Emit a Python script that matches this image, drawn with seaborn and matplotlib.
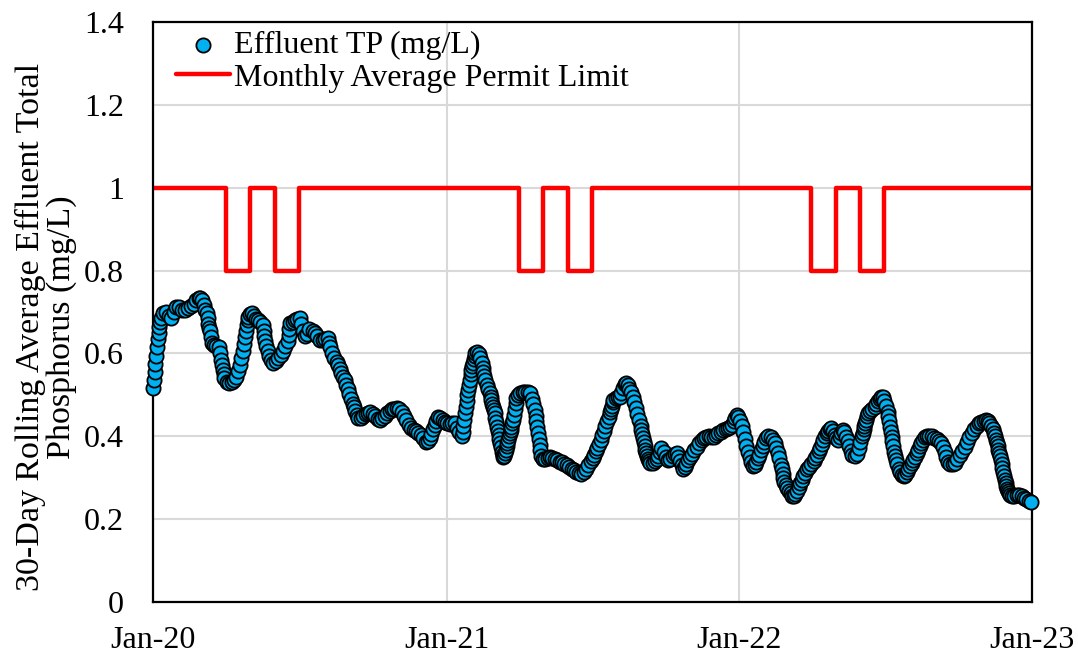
import numpy as np
import pandas as pd
import matplotlib
matplotlib.use("Agg")
import matplotlib.pyplot as plt
import matplotlib.dates as mdates
from matplotlib.ticker import FuncFormatter, MultipleLocator
import seaborn as sns

# ---- data (day offset from 2020-01-01, 30-day rolling TP in mg/L) ----
tp_days = [0,1,2,3,4,5,6,7,8,9,10,12,16,20,23,26,29,33,36,40,44,48,51,54,57,59,61,63,65,67,68,69,70,71,72,73,76,79,82,84,85,86,87,88,89,92,95,98,101,104,106,108,110,112,114,115,116,117,118,119,121,123,126,129,131,134,137,138,139,140,141,143,145,147,150,153,156,159,162,165,168,169,170,171,174,177,180,183,185,187,189,192,195,199,202,205,208,212,215,218,220,221,223,226,229,231,233,235,237,239,241,243,245,247,249,250,252,254,256,259,262,265,268,271,274,277,280,283,286,289,292,295,298,301,304,307,310,313,316,319,322,325,328,331,334,337,340,343,345,347,349,351,353,355,358,361,364,367,370,373,376,379,382,385,386,387,388,389,390,391,392,393,394,395,396,397,398,399,400,401,402,404,406,408,410,411,412,413,414,416,418,420,421,422,423,424,425,426,427,428,429,430,431,432,433,434,435,436,437,438,439,440,441,442,443,444,445,446,447,448,449,450,451,452,453,455,458,461,464,467,470,472,474,476,477,478,479,480,481,482,483,484,486,489,492,495,498,501,504,507,510,513,516,519,522,525,528,531,534,537,540,543,546,548,550,552,554,556,558,560,562,564,566,568,570,571,572,573,574,577,580,582,584,586,588,590,592,594,596,598,600,602,604,606,608,609,610,611,612,613,614,615,616,617,618,620,623,626,628,630,632,634,637,640,642,645,648,651,653,655,657,659,661,663,665,667,669,672,675,678,681,684,687,690,693,696,699,702,705,708,711,714,717,720,722,724,726,728,730,732,734,736,738,740,742,744,746,748,750,752,754,756,758,760,762,764,767,770,773,775,777,779,781,783,784,785,786,787,789,791,793,795,797,799,801,803,805,807,809,811,813,815,818,821,824,826,828,830,832,834,836,838,840,842,844,846,848,850,852,854,856,858,860,862,864,866,868,870,872,875,878,880,882,884,885,886,887,888,889,890,891,894,897,900,902,904,906,908,910,912,914,916,917,918,919,920,921,922,923,924,925,926,928,930,932,934,936,938,940,942,944,946,948,950,952,954,956,958,960,962,965,968,971,974,977,980,983,985,987,989,991,994,997,1000,1003,1006,1009,1012,1015,1018,1021,1024,1027,1030,1033,1036,1039,1041,1043,1045,1047,1049,1050,1051,1052,1053,1054,1055,1056,1057,1058,1059,1060,1061,1062,1063,1064,1065,1066,1067,1068,1071,1074,1077,1080,1083,1086,1089,1092,1095]
tp_values = [.516,.535,.555,.575,.595,.615,.635,.650,.665,.675,.685,.697,.700,.690,.685,.700,.712,.712,.705,.705,.710,.715,.720,.728,.733,.733,.728,.718,.706,.697,.685,.672,.662,.655,.640,.625,.620,.618,.615,.600,.585,.572,.560,.550,.540,.532,.528,.530,.536,.544,.557,.573,.590,.607,.622,.640,.655,.668,.680,.689,.694,.697,.690,.684,.681,.676,.669,.655,.642,.630,.618,.605,.594,.583,.578,.582,.588,.597,.607,.618,.630,.645,.660,.673,.676,.680,.684,.685,.670,.655,.642,.648,.658,.655,.650,.642,.633,.632,.635,.637,.625,.615,.600,.590,.580,.572,.562,.553,.544,.535,.524,.514,.503,.490,.477,.471,.462,.452,.445,.444,.448,.453,.457,.459,.455,.448,.442,.439,.443,.450,.456,.462,.466,.467,.468,.465,.459,.450,.440,.428,.420,.415,.412,.409,.403,.395,.386,.388,.397,.406,.418,.428,.438,.446,.445,.440,.435,.432,.430,.432,.432,.420,.410,.400,.410,.425,.440,.456,.470,.485,.500,.512,.525,.537,.550,.560,.570,.578,.587,.594,.600,.604,.598,.588,.577,.566,.555,.545,.536,.525,.514,.504,.495,.487,.479,.471,.463,.456,.445,.434,.423,.412,.402,.393,.383,.373,.363,.355,.351,.352,.360,.368,.376,.385,.392,.400,.408,.415,.423,.431,.439,.452,.466,.480,.492,.500,.505,.508,.508,.507,.504,.490,.477,.463,.450,.436,.422,.408,.393,.380,.366,.353,.345,.346,.348,.350,.348,.345,.342,.339,.337,.333,.330,.327,.322,.318,.315,.312,.310,.315,.322,.330,.340,.348,.356,.364,.372,.382,.392,.402,.412,.424,.436,.447,.458,.466,.474,.482,.488,.492,.494,.496,.505,.516,.526,.528,.524,.515,.506,.495,.482,.468,.455,.440,.425,.415,.406,.396,.386,.376,.367,.360,.353,.346,.340,.335,.336,.340,.344,.352,.362,.372,.362,.350,.343,.345,.352,.358,.360,.350,.340,.330,.320,.326,.333,.342,.350,.358,.367,.375,.383,.390,.396,.399,.400,.399,.399,.403,.407,.411,.415,.418,.420,.422,.428,.436,.444,.451,.447,.437,.425,.410,.393,.377,.362,.350,.339,.329,.330,.338,.347,.356,.366,.377,.387,.395,.400,.398,.392,.383,.372,.360,.348,.330,.320,.310,.300,.290,.283,.276,.268,.262,.257,.256,.260,.268,.278,.288,.295,.303,.312,.320,.327,.333,.340,.348,.356,.364,.372,.382,.392,.400,.407,.413,.417,.419,.412,.403,.395,.391,.398,.407,.415,.410,.398,.388,.377,.365,.354,.352,.358,.372,.386,.400,.408,.417,.425,.433,.440,.448,.456,.462,.467,.471,.477,.484,.491,.496,.494,.485,.472,.458,.448,.436,.423,.410,.399,.388,.376,.363,.352,.343,.332,.322,.313,.306,.303,.307,.314,.321,.328,.335,.343,.351,.360,.368,.376,.384,.392,.399,.401,.401,.400,.397,.393,.388,.383,.374,.362,.350,.338,.333,.333,.336,.344,.354,.365,.375,.387,.399,.408,.417,.424,.431,.435,.438,.439,.438,.433,.425,.417,.408,.400,.392,.384,.376,.368,.360,.352,.343,.333,.323,.313,.303,.295,.288,.280,.273,.267,.262,.258,.256,.257,.258,.258,.255,.252,.248,.245,.242]

# monthly permit limit, Jan-2020 .. Jan-2023 (step drawn from month start)
limit_months = pd.date_range("2020-01-01", "2023-01-01", freq="MS")
limit_values = [1.0, 1.0, 1.0, 0.8, 1.0, 0.8, 1.0, 1.0, 1.0, 1.0, 1.0, 1.0,
                1.0, 1.0, 1.0, 0.8, 1.0, 0.8, 1.0, 1.0, 1.0, 1.0, 1.0, 1.0,
                1.0, 1.0, 1.0, 0.8, 1.0, 0.8, 1.0, 1.0, 1.0, 1.0, 1.0, 1.0,
                1.0]

series_tp = "Effluent TP (mg/L)"
series_limit = "Monthly Average Permit Limit"
y_label = "30-Day Rolling Average Effluent Total\nPhosphorus (mg/L)"

# ---- build ----
start = pd.Timestamp("2020-01-01")
df_tp = pd.DataFrame({"date": start + pd.to_timedelta(tp_days, unit="D"),
                      "tp": tp_values})
df_lim = pd.DataFrame({"date": limit_months, "limit": limit_values})

sns.set_theme(style="white")
plt.rcParams["font.family"] = ["Liberation Serif", "DejaVu Serif"]
plt.rcParams["font.size"] = 23
plt.rcParams["text.color"] = "black"
plt.rcParams["axes.labelcolor"] = "black"
plt.rcParams["xtick.color"] = "black"
plt.rcParams["ytick.color"] = "black"

fig = plt.figure(figsize=(10.78, 6.58), dpi=100)
ax = fig.add_axes([153/1078, 1 - 602/658, (1032-153)/1078, (602-22)/658])

sns.scatterplot(data=df_tp, x="date", y="tp", ax=ax, s=105, color="#00B0F0",
                edgecolor="black", linewidth=1.3, label=series_tp, zorder=3,
                clip_on=False)
sns.lineplot(data=df_lim, x="date", y="limit", ax=ax, color="#FF0000",
             linewidth=3.2, drawstyle="steps-post", label=series_limit, zorder=2)

ax.set_xlim(pd.Timestamp("2020-01-01"), pd.Timestamp("2023-01-01"))
ax.set_ylim(0, 1.4)
ax.yaxis.set_major_locator(MultipleLocator(0.2))
ax.yaxis.set_major_formatter(FuncFormatter(lambda v, p: f"{v:g}"))
ax.xaxis.set_major_locator(mdates.YearLocator())
ax.xaxis.set_major_formatter(mdates.DateFormatter("%b-%y"))
ax.xaxis.set_minor_locator(mdates.MonthLocator(bymonth=[4, 7, 10]))

ax.grid(True, which="major", color="#D9D9D9", linewidth=1.5, zorder=0)
ax.set_axisbelow(True)
for sp in ax.spines.values():
    sp.set_visible(True)
    sp.set_color("black")
    sp.set_linewidth(1.6)

ax.tick_params(axis="both", which="both", direction="in", colors="black",
               labelsize=23, width=1.2)
ax.tick_params(axis="x", which="major", length=7, pad=17)
ax.tick_params(axis="x", which="minor", length=7)
ax.tick_params(axis="y", which="major", length=7, pad=21)
ax.tick_params(top=False, right=False)

ax.set_xlabel("")
ax.set_ylabel(y_label, fontsize=24.5, linespacing=1.0, color="black")
ax.yaxis.set_label_coords(-0.087, 0.474)

leg = ax.legend(loc="upper left", bbox_to_anchor=(0.026, 0.985), frameon=False,
                fontsize=23, handlelength=1.7, handletextpad=0.12,
                labelspacing=0.1, borderaxespad=0, borderpad=0)

fig.savefig("out.png", dpi=100)
